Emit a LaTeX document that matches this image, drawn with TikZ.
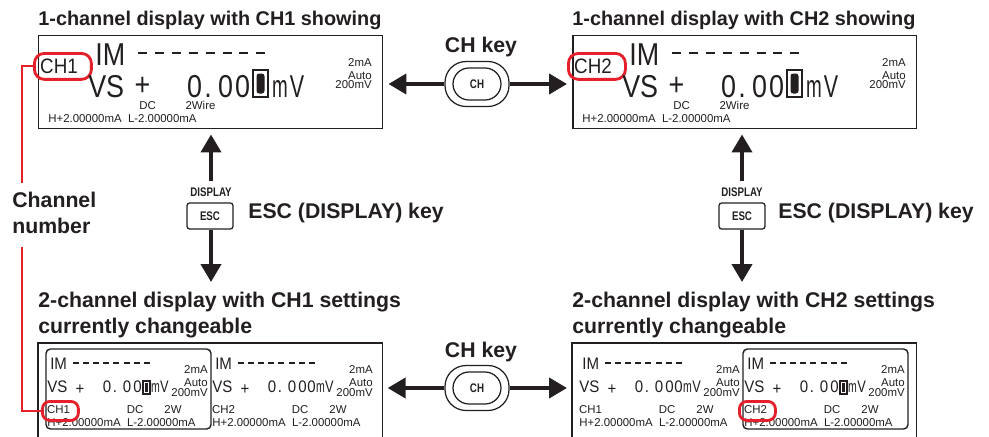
\documentclass[tikz,border=0pt]{standalone}
\usepackage{fontspec}
\setmainfont{Liberation Sans}
\usetikzlibrary{arrows.meta,calc}
\definecolor{ink}{HTML}{231F20}
\definecolor{chred}{HTML}{E5202A}

% one-channel display: #1 prefix, #2 x origin, #3 channel label
\newcommand\onechan[3]{%
\begin{scope}[shift={(#2,35)}]
\node[frame, anchor=north west, minimum width=6.88cm, minimum height=1.86cm, inner sep=0pt] (#1box) at (0,0) {};
\node[chring, rounded corners=0.2cm, anchor=north west, minimum width=1.14cm, minimum height=0.52cm, inner sep=0pt] (#1ring) at (-5,17) {};
\node[lcdch, anchor=base] (#1ch) at (21,38) {#3};
\node[big, anchor=base west] (#1im) at (57,30) {IM};
\foreach \i in {0,...,7} \draw[dashA] ({100+\i*16.9},18) -- ++(9,0);
\node[big, anchor=base west] (#1vs) at (50,62) {VS};
\node[big, anchor=base] (#1plus) at (104.5,60) {+};
\node[big, anchor=base] (#1da) at (156.5,62) {0};
\node[big, anchor=base] (#1dp) at (170,62) {.};
\node[big, anchor=base] (#1db) at (187.5,62) {0};
\node[big, anchor=base] (#1dc) at (204.5,62) {0};
\draw[ink, line width=1.3pt, fill=white] (215,35) rectangle (230,62);
\fill[ink, rounded corners=1.5pt] (218.5,38.5) rectangle (226.5,58.5);
\node[big, anchor=base, xscale=0.7] (#1m) at (242,62) {m};
\node[big, anchor=base, xscale=0.8] (#1v) at (259,62) {V};
\node[tiny, anchor=base] (#1dcl) at (109.5,74) {DC};
\node[tiny, anchor=base] (#1wire) at (162.5,74) {2Wire};
\node[tiny, anchor=base west] (#1hl) at (10,87) {H+2.00000mA\ \ L-2.00000mA};
\node[tiny, anchor=base east] (#1ma) at (334,31) {2mA};
\node[tiny, anchor=base east] (#1auto) at (334,44) {Auto};
\node[tiny, anchor=base east] (#1rng) at (334,53) {200mV};
\end{scope}}

% half of a two-channel display: #1 prefix, #2 x origin, #3 label, #4 cursor, #5 ring
\newcommand\halfdisp[5]{%
\begin{scope}[shift={(#2,0)}]
\node[mid, anchor=base west] (#1im) at (4,369) {IM};
\foreach \i in {0,...,7} \draw[dashB] ({27+\i*10.1},363) -- ++(6,0);
\node[tiny, anchor=base east] (#1ma) at (162,373) {2mA};
\node[mid, anchor=base west] (#1vs) at (1,392) {VS};
\node[mid, anchor=base] (#1plus) at (34,394) {+};
\node[mid, anchor=base] (#1da) at (61,392) {0};
\node[mid, anchor=base] (#1dp) at (69,392) {.};
\node[mid, anchor=base] (#1db) at (81,392) {0};
\node[mid, anchor=base] (#1dc) at (91.5,392) {0};
\ifnum#4=1
\draw[ink, line width=0.9pt, fill=white] (97,381) rectangle (104,394);
\fill[ink] (99,383) rectangle (102,392);
\else
\node[mid, anchor=base] (#1dd) at (100.5,392) {0};
\fi
\node[mid, anchor=base, xscale=0.7] (#1m) at (109.5,392) {m};
\node[mid, anchor=base, xscale=0.85] (#1v) at (118.5,392) {V};
\node[tiny, anchor=base east] (#1auto) at (162,386) {Auto};
\node[tiny, anchor=base east] (#1rng) at (162,396) {200mV};
\node[tiny, anchor=base] (#1ch) at (12.5,413) {#3};
\node[tiny, anchor=base] (#1dcl) at (89,413) {DC};
\node[tiny, anchor=base] (#1w) at (127,413) {2W};
\node[tiny, anchor=base west] (#1hl) at (1,426) {H+2.00000mA\ \ L-2.00000mA};
\ifnum#5=1
\node[chring, rounded corners=0.15cm, anchor=north west, minimum width=0.72cm, minimum height=0.38cm, inner sep=0pt] (#1ring) at (-5,400) {};
\fi
\end{scope}}

\begin{document}
\begin{tikzpicture}[x=0.02cm, y=-0.02cm,
 frame/.style={draw=ink, line width=0.85pt},
 inner/.style={draw=ink, line width=0.8pt, rounded corners=2.5pt},
 big/.style={font=\fontsize{18}{18}\selectfont, text=ink, inner sep=0pt, text depth=0pt, xscale=0.85},
 lcdch/.style={font=\fontsize{11.9}{12}\selectfont, text=ink, inner sep=0pt, text depth=0pt, xscale=0.9},
 mid/.style={font=\fontsize{9.5}{10}\selectfont, text=ink, inner sep=0pt, text depth=0pt, xscale=0.9},
 tiny/.style={font=\fontsize{6.5}{7}\selectfont, text=ink, inner sep=0pt, text height=4.7pt, text depth=0pt},
 title/.style={font=\fontsize{11.3}{12}\selectfont\bfseries, text=ink, inner sep=0pt},
 titleb/.style={font=\fontsize{12.1}{13}\selectfont\bfseries, text=ink, inner sep=0pt},
 keylbl/.style={font=\fontsize{7.1}{8}\selectfont\bfseries, text=ink, inner sep=0pt, xscale=0.78},
 chring/.style={draw=chred, line width=1.6pt},
 redline/.style={draw=chred, line width=1.1pt},
 arr/.style={draw=ink, line width=2.3pt, -{Triangle[length=0.36cm,width=0.4cm]}},
 dashA/.style={draw=ink, line width=1.1pt},
 dashB/.style={draw=ink, line width=0.7pt},
 keyout/.style={draw=ink, line width=0.7pt, minimum width=1.28cm, minimum height=0.9cm, rounded corners=0.42cm, inner sep=0pt},
 keyin/.style={draw=ink, line width=0.7pt, minimum width=0.96cm, minimum height=0.64cm, rounded corners=0.32cm, inner sep=0pt},
 esckey/.style={draw=ink, line width=0.7pt, minimum width=0.92cm, minimum height=0.52cm, rounded corners=1.5pt, inner sep=0pt},
]
\fill[white] (0,0) rectangle (989,436);
\useasboundingbox (0,0) rectangle (989,436);

% titles
\node[title, anchor=base west] (t1) at (38,25) {1-channel display with CH1 showing};
\node[title, anchor=base west] (t2) at (572,25) {1-channel display with CH2 showing};
\node[titleb, anchor=base west] (t3a) at (38,307) {2-channel display with CH1 settings};
\node[titleb, anchor=base west] (t3b) at (38,333) {currently changeable};
\node[titleb, anchor=base west] (t4a) at (572,307) {2-channel display with CH2 settings};
\node[titleb, anchor=base west] (t4b) at (572,333) {currently changeable};

% one-channel displays
\onechan{a}{38}{CH1}
\onechan{b}{572}{CH2}

% two-channel displays
\node[anchor=north west, minimum width=6.88cm, minimum height=1.86cm, inner sep=0pt] (cbox) at (38,343) {};
\draw[frame] (cbox.south west) |- (cbox.north east) -- (cbox.south east);
\draw[inner] (46,349) rectangle (211,429);
\halfdisp{c}{46}{CH1}{1}{1}
\halfdisp{cc}{211}{CH2}{0}{0}

\node[anchor=north west, minimum width=6.88cm, minimum height=1.86cm, inner sep=0pt] (dbox) at (572,343) {};
\draw[frame] (dbox.south west) |- (dbox.north east) -- (dbox.south east);
\draw[inner] (743,349) rectangle (908,429);
\halfdisp{d}{578}{CH1}{0}{0}
\halfdisp{dd}{743}{CH2}{1}{1}

% CH keys
\node[titleb, anchor=base] (k1lbl) at (481,52) {CH key};
\node[keyout] (k1) at (477,84) {};
\node[keyin] (k1i) at (477,84) {};
\node[keylbl] (k1t) at (477,84) {CH};
\draw[arr, shorten >=0.1cm] (k1.west) -- (k1.west -| abox.east);
\draw[arr, shorten >=0.1cm] (k1.east) -- (k1.east -| bbox.west);

\node[titleb, anchor=base] (k2lbl) at (481,357) {CH key};
\node[keyout] (k2) at (477,388) {};
\node[keyin] (k2i) at (477,388) {};
\node[keylbl] (k2t) at (477,388) {CH};
\draw[arr, shorten >=0.1cm] (k2.west) -- (k2.west -| cbox.east);
\draw[arr, shorten >=0.1cm] (k2.east) -- (k2.east -| dbox.west);

% ESC keys
\node[keylbl] (e1lbl) at (211,192) {DISPLAY};
\node[esckey] (e1) at (210,216) {};
\node[keylbl] (e1t) at (210,216.5) {ESC};
\node[titleb, anchor=base west] (e1txt) at (248,218) {ESC (DISPLAY) key};
\coordinate (e1dn) at (211,282);
\draw[arr, shorten <=0.12cm, shorten >=0.1cm] (e1lbl.north) -- (e1lbl.north |- abox.south);
\draw[arr] (e1.south -| e1lbl.north) -- (e1dn);

\node[keylbl] (e2lbl) at (742,192) {DISPLAY};
\node[esckey] (e2) at (742,216) {};
\node[keylbl] (e2t) at (742,216.5) {ESC};
\node[titleb, anchor=base west] (e2txt) at (778,218) {ESC (DISPLAY) key};
\coordinate (e2dn) at (742,282);
\draw[arr, shorten <=0.12cm, shorten >=0.1cm] (e2lbl.north) -- (e2lbl.north |- bbox.south);
\draw[arr] (e2.south) -- (e2dn);

% channel number callout
\node[titleb, anchor=base west] (cn1) at (12,207) {Channel};
\node[titleb, anchor=base west] (cn2) at (12,233) {number};
\coordinate (rA) at (22,183);
\coordinate (rB) at (22,247);
\draw[redline] (aring.west) -| (rA);
\draw[redline] (rB) |- (cring.west);
\end{tikzpicture}
\end{document}
